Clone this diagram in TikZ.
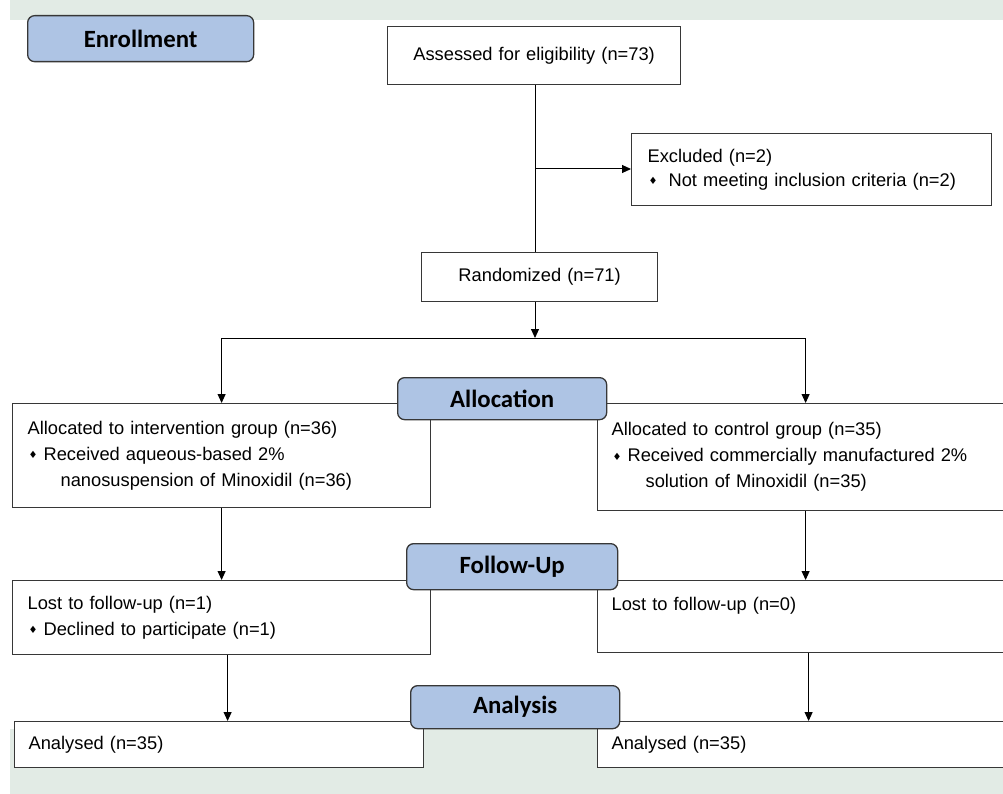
\documentclass[tikz,border=0pt]{standalone}
\usepackage{fontspec}
\setmainfont{Liberation Sans}
\newfontfamily\labfont{Carlito}
\newfontfamily\symfont{DejaVu Sans}
\usetikzlibrary{arrows.meta}
\definecolor{bggray}{RGB}{226,235,229}
\definecolor{labblue}{RGB}{174,196,228}
\definecolor{edgecol}{RGB}{55,55,55}
\newcommand{\dmd}{\raisebox{1.5pt}{\symfont\fontsize{10}{10}\selectfont ♦}}
\newcommand{\bul}[1]{\makebox[#1][l]{\hspace*{1pt}\dmd}}
\tikzset{
  box/.style={draw=edgecol, line width=1.2pt, fill=white, inner xsep=15pt, inner ysep=0pt,
    anchor=north west, align=left, font=\fontsize{18.3}{26}\selectfont, text=black},
  stagelab/.style={draw=edgecol, line width=1.3pt, fill=labblue, rounded corners=7pt,
    font=\labfont\bfseries\fontsize{24.8}{24.8}\selectfont, inner sep=0pt, anchor=north west},
  conn/.style={draw=black, line width=1pt},
  arr/.style={conn, -{Triangle[length=9pt, width=8pt]}},
}
\begin{document}
\begin{tikzpicture}[x=1pt, y=-1pt]
\clip (0,0) rectangle (1003,794);
\fill[white] (0,0) rectangle (1003,794);
\fill[bggray] (10,0) rectangle (1003,20);
\fill[bggray] (10,729) rectangle (1003,794);

% boxes
\node[box, align=center, text width=263pt, minimum height=58pt] (assess) at (387,26) {\raisebox{2pt}{Assessed for eligibility (n=73)}};
\node[box, text width=328pt, minimum height=72pt, inner xsep=16pt] (excl) at (631,133)
  {\raisebox{-2pt}{Excluded (n=2)}\\ \bul{21pt}Not meeting inclusion criteria (n=2)};
\node[box, align=center, text width=206pt, minimum height=49pt] (rand) at (421,252) {Randomized (n=71)};

\node[box, text width=388pt, minimum height=104pt] (allocL) at (12,403)
  {Allocated to intervention group (n=36)\\ \bul{16pt}Received aqueous-based 2\%\\ \hspace*{33pt}nanosuspension of Minoxidil (n=36)};
\node[box, text width=388pt, minimum height=107pt, inner xsep=14pt] (allocR) at (597,403)
  {Allocated to control group (n=35)\\ \bul{16pt}Received commercially manufactured 2\%\\ \hspace*{34pt}solution of Minoxidil (n=35)};

\node[box, text width=388pt, minimum height=74pt] (fuL) at (12,580)
  {Lost to follow-up (n=1)\\ \bul{16pt}Declined to participate (n=1)};
\node[box, text width=388pt, minimum height=72pt, inner xsep=14pt] (fuR) at (597,580)
  {Lost to follow-up (n=0)\\ \mbox{}};

\node[box, text width=381pt, minimum height=46pt, inner xsep=14pt] (anL) at (14,721) {Analysed (n=35)};
\node[box, text width=390pt, minimum height=46pt, inner xsep=14pt] (anR) at (597,721) {Analysed (n=35)};

% connectors
\coordinate (split) at (535,169);
\coordinate (branch) at (535,338);
\draw[conn] (assess.south -| split) -- (rand.north -| split);
\draw[arr] (split) -- (excl.west |- split);
\draw[arr] (rand.south -| branch) -- (branch);
\draw[conn] (allocL.north |- branch) -- (allocR.north |- branch);
\draw[arr] (allocL.north |- branch) -- (allocL.north);
\draw[arr] (allocR.north |- branch) -- (allocR.north);
\draw[arr] (allocL.south) -- (fuL.north);
\draw[arr] (allocR.south) -- (fuR.north);
\draw[arr] ([xshift=6pt]fuL.south) -- ([xshift=6pt]fuL.south |- anL.north);
\draw[arr] ([xshift=3pt]fuR.south) -- ([xshift=3pt]fuR.south |- anR.north);

% stage labels
\node[stagelab, minimum width=226pt, minimum height=46pt] (enrol) at (27,15) {Enrollment};
\node[stagelab, minimum width=209pt, minimum height=42pt] (alloc) at (397,377) {Allocation};
\node[stagelab, minimum width=211pt, minimum height=46pt] (follow) at (406,543) {Follow-Up};
\node[stagelab, minimum width=209pt, minimum height=43pt] (analysis) at (410,685) {Analysis};
\end{tikzpicture}
\end{document}
